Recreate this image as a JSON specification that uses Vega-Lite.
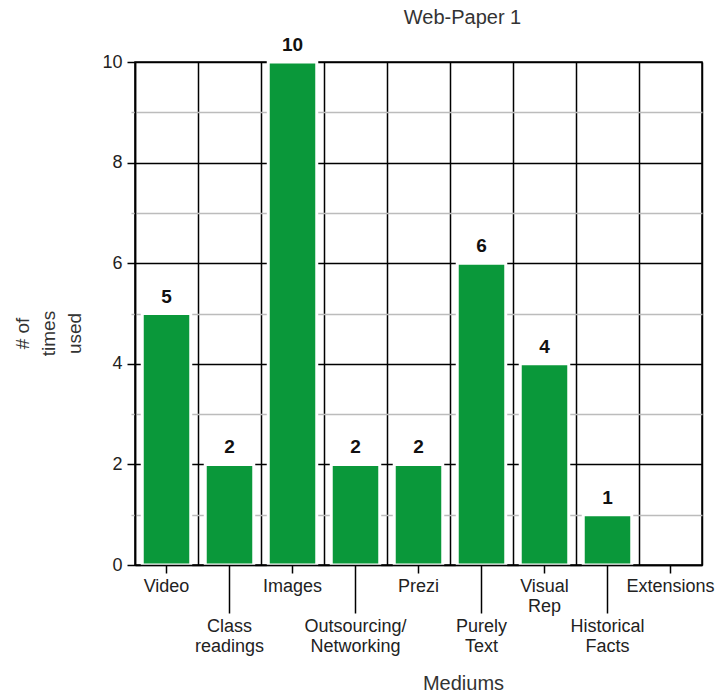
{
  "$schema": "https://vega.github.io/schema/vega-lite/v6.json",
  "width": 567,
  "height": 503,
  "autosize": {"type": "none"},
  "padding": {"left": 135, "top": 62, "right": 16, "bottom": 131},
  "background": "white",
  "config": {
    "view": {"stroke": "black", "strokeWidth": 1.5},
    "font": "Liberation Sans"
  },
  "title": {
    "text": "Web-Paper 1",
    "anchor": "middle",
    "dx": 44,
    "offset": 8,
    "fontSize": 20,
    "fontWeight": "normal",
    "color": "#333"
  },
  "data": {
    "values": [
      {"medium": "Video", "v": 5},
      {"medium": "Class readings", "v": 2},
      {"medium": "Images", "v": 10},
      {"medium": "Outsourcing/ Networking", "v": 2},
      {"medium": "Prezi", "v": 2},
      {"medium": "Purely Text", "v": 6},
      {"medium": "Visual Rep", "v": 4},
      {"medium": "Historical Facts", "v": 1},
      {"medium": "Extensions", "v": 0}
    ]
  },
  "encoding": {
    "y": {
      "field": "v",
      "type": "quantitative",
      "scale": {"domain": [0, 10], "nice": false},
      "axis": {
        "values": [0, 1, 2, 3, 4, 5, 6, 7, 8, 9, 10],
        "grid": true,
        "gridColor": {"condition": {"test": "datum.value % 2 === 1", "value": "#bcbcbc"}, "value": "black"},
        "gridWidth": 1.5,
        "tickColor": {"condition": {"test": "datum.value % 2 === 1", "value": "#bcbcbc"}, "value": "black"},
        "tickSize": {"condition": {"test": "datum.value % 2 === 1", "value": 4}, "value": 8},
        "tickWidth": 1.5,
        "domainColor": "black",
        "domainWidth": 1.5,
        "labelExpr": "datum.value % 2 === 1 ? '' : datum.label",
        "labelFontSize": 18,
        "labelColor": "#222",
        "labelPadding": 5,
        "title": ["# of", "times", "used"],
        "titleAngle": -90,
        "titleX": -113,
        "titleY": 271,
        "titleAlign": "center",
        "titleBaseline": "middle",
        "titleLineHeight": 26,
        "titleFontSize": 19,
        "titleFontWeight": "normal",
        "titleColor": "#333"
      }
    }
  },
  "layer": [
    {
      "transform": [{"filter": "datum.v > 0"}],
      "mark": {"type": "bar", "color": "#0a983a", "stroke": "white", "strokeWidth": 3, "width": {"band": 0.77}},
      "encoding": {
        "x": {
          "field": "medium",
          "type": "nominal",
          "sort": null,
          "scale": {
            "domain": ["Video", "Class readings", "Images", "Outsourcing/ Networking", "Prezi", "Purely Text", "Visual Rep", "Historical Facts", "Extensions"],
            "paddingInner": 0,
            "paddingOuter": 0
          },
          "axis": {
            "orient": "bottom",
            "zindex": 1,
            "grid": false,
            "domainColor": "black",
            "domainWidth": 1.5,
            "tickColor": "black",
            "tickWidth": 1.5,
            "tickSize": {"condition": {"test": "indexof(['Class readings','Outsourcing/ Networking','Purely Text','Historical Facts'], datum.value) >= 0", "value": 48}, "value": 8},
            "labelExpr": "split(datum.label, ' ')",
            "labelAngle": 0,
            "labelFontSize": 18,
            "labelColor": "#222",
            "labelLineHeight": 20,
            "labelPadding": 4,
            "labelLimit": 300,
            "title": "Mediums",
            "titleX": 328,
            "titleY": 118,
            "titleBaseline": "middle",
            "titleFontSize": 20,
            "titleFontWeight": "normal",
            "titleColor": "#333"
          }
        }
      }
    },
    {
      "transform": [{"filter": "datum.v > 0"}],
      "mark": {"type": "text", "baseline": "bottom", "dy": -7, "fontSize": 19, "fontWeight": "bold", "color": "#111"},
      "encoding": {
        "x": {
          "field": "medium",
          "type": "nominal",
          "sort": null,
          "axis": {
            "orient": "top",
            "grid": true,
            "tickBand": "extent",
            "gridColor": "black",
            "gridWidth": 1.5,
            "ticks": false,
            "labels": false,
            "domain": false,
            "title": null
          }
        },
        "text": {"field": "v", "type": "quantitative"}
      }
    }
  ],
  "resolve": {"axis": {"x": "independent"}}
}
